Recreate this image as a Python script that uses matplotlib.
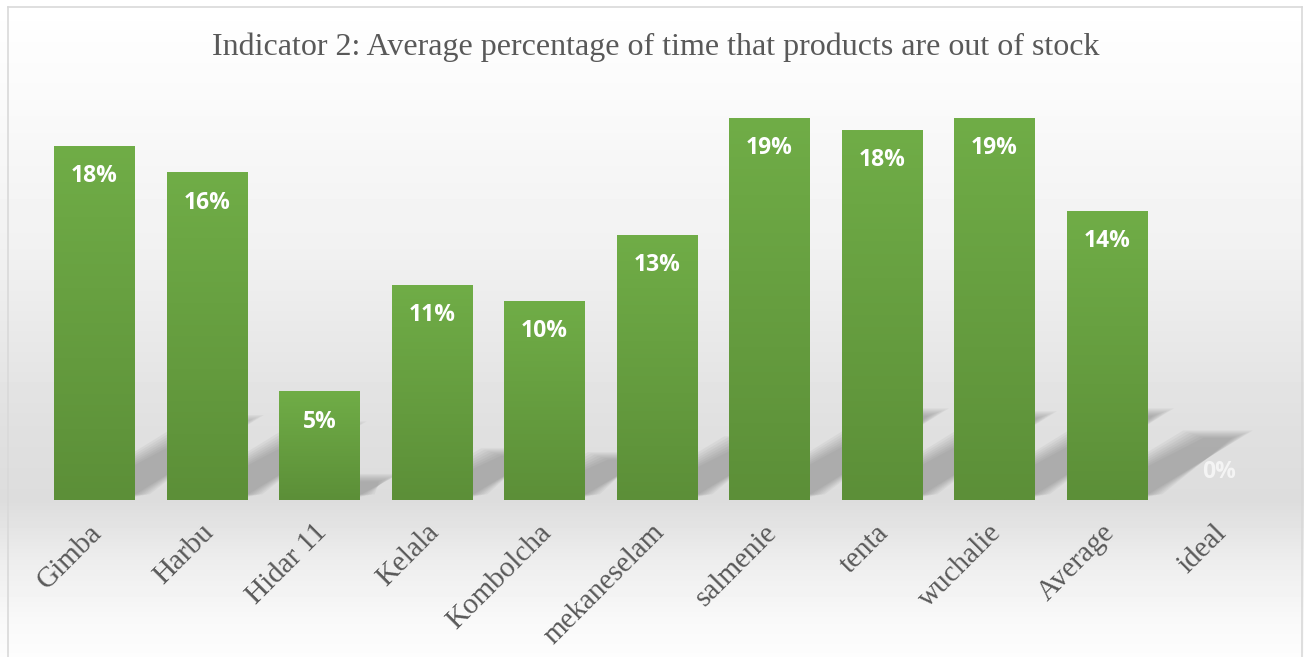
import numpy as np
import matplotlib.pyplot as plt
from matplotlib.patches import Polygon
from matplotlib.lines import Line2D
from matplotlib.colors import LinearSegmentedColormap
from matplotlib.transforms import ScaledTranslation

# data (percent)
sites = ["Gimba", "Harbu", "Hidar 11", "Kelala", "Kombolcha", "mekaneselam",
         "salmenie", "tenta", "wuchalie", "Average", "ideal"]
pct = [17.6, 16.3, 5.4, 10.7, 9.9, 13.2, 19.0, 18.4, 19.0, 14.4, 0.0]
labels = ["18%", "16%", "5%", "11%", "10%", "13%", "19%", "18%", "19%", "14%", "0%"]
title = "Indicator 2: Average percentage of time that products are out of stock"

W, H = 1304, 657
fig = plt.figure(figsize=(W/100, H/100), dpi=100)

# background gradient over the whole chart area
bg = fig.add_axes([0, 0, 1, 1], zorder=-10)
rows = np.arange(H)
knots_y = [0, 80, 250, 420, 500, 560, 620, 657]
knots_v = [1.0, 0.985, 0.945, 0.88, 0.865, 0.93, 0.975, 0.99]
prof = np.interp(rows, knots_y, knots_v)
img = np.repeat(prof[:, None], 4, axis=1)
bg.imshow(img, cmap="gray", vmin=0, vmax=1, aspect="auto", extent=[0, 1, 0, 1])
bg.set_axis_off()
# thin border
for seg in [([8, 8], [0, H-7]), ([8, 1302], [H-7, H-7]), ([1302, 1302], [0, H-7])]:
    fig.add_artist(Line2D(np.array(seg[0])/W, np.array(seg[1])/H, color="#d9d9d9", lw=1.2))

# plot area: baseline at y=500px, 1% = 20.1 px, slot = 112.5 px
left = 38.25/W
width = 1237.5/W
bottom = 157/H
height = 400/H
ax = fig.add_axes([left, bottom, width, height])
ax.set_facecolor("none")
for s in ax.spines.values():
    s.set_visible(False)
ax.tick_params(length=0, pad=14)
ax.set_yticks([])

x = np.arange(len(sites))
bw = 0.72

# soft perspective shadows behind bars
for xi, v in zip(x, pct):
    if v <= 0:
        continue
    x0, x1 = xi - bw/2, xi + bw/2
    dx = 0.065*v
    ty = 0.24*v
    for k in range(7):
        g = 0.03*k
        poly = Polygon([(x0 + 0.05 + g, 0.1 + g), (x1 - 0.05 + g, 0.1 + g),
                        (x1 + dx - g, ty - g*2), (x0 + dx + 0.1 + g, ty - g*2)],
                       closed=True, facecolor="#6e6e6e", edgecolor="none",
                       alpha=0.075, zorder=1)
        ax.add_patch(poly)

bars = ax.bar(x, pct, width=bw, color="#6aa543", zorder=2)

# vertical green gradient on each bar
grad = np.linspace(0, 1, 256)[:, None]
cm = LinearSegmentedColormap.from_list("g", ["#5c8f38", "#70ad47"])
for b in bars:
    if b.get_height() <= 0:
        continue
    x0 = b.get_x()
    im = ax.imshow(grad, cmap=cm, aspect="auto", origin="lower",
                   extent=[x0, x0 + b.get_width(), 0, b.get_height()], zorder=3)
    im.set_clip_path(b)
ax.set_xlim(-0.5, 10.5)
ax.set_ylim(0, 400/20.1)

for xi, v, lab in zip(x, pct, labels):
    yl = v - 1.5 if v > 3 else 1.4
    col = "white" if v > 0 else "#f4f4f4"
    ax.text(xi, yl, lab, ha="center", va="center", color=col,
            fontsize=16.5, fontweight="bold", family="Open Sans", zorder=5)

ax.set_xticks(x)
ax.set_xticklabels(sites, rotation=45, ha="right", rotation_mode="anchor",
                   family="Liberation Serif", fontsize=21, color="#595959")
shift = ScaledTranslation(-6/100, 0, fig.dpi_scale_trans)
for t in ax.get_xticklabels():
    t.set_transform(t.get_transform() + shift)

fig.text(656/W, 1 - 47/H, title, ha="center", va="center",
         family="Liberation Serif", fontsize=23, color="#595959")

fig.savefig("out.png", dpi=100)
